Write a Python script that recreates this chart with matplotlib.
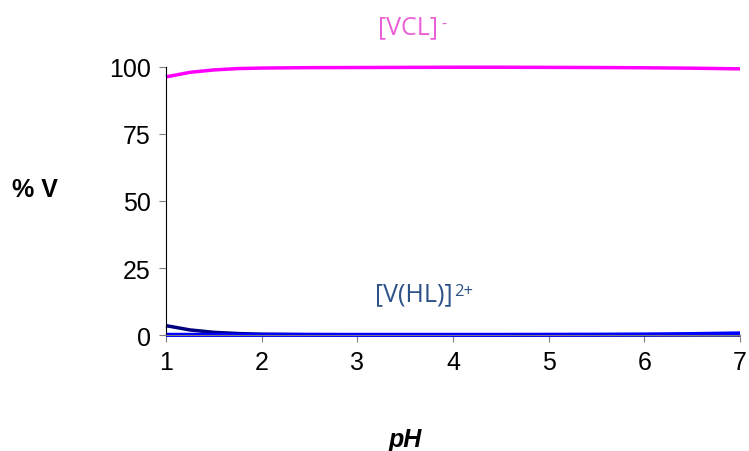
import numpy as np
import matplotlib.pyplot as plt

ph = [1.0, 1.25, 1.5, 1.75, 2.0, 2.5, 3.0, 3.5, 4.0, 4.5, 5.0, 5.5, 6.0, 6.5, 7.0]
vcl = [96.3, 98.0, 98.9, 99.4, 99.6, 99.75, 99.8, 99.85, 99.9, 99.9, 99.85, 99.8, 99.7, 99.55, 99.3]
vhl = [3.5, 1.9, 1.0, 0.55, 0.3, 0.15, 0.08, 0.05, 0.03, 0.02, 0.01, 0.01, 0.0, 0.0, 0.0]
vl = [0.05, 0.05, 0.05, 0.05, 0.05, 0.05, 0.05, 0.05, 0.05, 0.05, 0.08, 0.12, 0.2, 0.35, 0.6]

fig = plt.figure(figsize=(7.49, 4.52), dpi=100)
ax = fig.add_axes([0.2216, 0.2566, 0.7664, 0.593])

ax.plot(ph, vhl, color='#000080', lw=2.5, solid_capstyle='butt', clip_on=False)
ax.plot(ph, vl, color='#0000ff', lw=3, solid_capstyle='butt', clip_on=False)
ax.plot(ph, vcl, color='#ff00ff', lw=2.5, solid_capstyle='butt', clip_on=False)

ax.set_xlim(1, 7)
ax.set_ylim(0, 100)
ax.set_xticks(range(1, 8))
ax.set_yticks([0, 25, 50, 75, 100])
for s in ('top', 'right'):
    ax.spines[s].set_visible(False)
ax.spines['left'].set_color('#000000')
ax.spines['bottom'].set_color('#808080')
ax.tick_params(axis='both', direction='out', length=5, labelsize=18, pad=6, color='#808080')
for lab in ax.get_xticklabels() + ax.get_yticklabels():
    lab.set_family('Liberation Sans')

fig.text(0.047, 0.58, '% V', fontsize=18, fontweight='bold', family='Liberation Sans', ha='center', va='center')
fig.text(0.541, 0.027, 'pH', fontsize=18, fontweight='bold', fontstyle='italic', family='Liberation Sans', ha='center', va='center')

t1 = fig.text(0.545, 0.939, '[VCL]', fontsize=18, color='#ec5fd6', family='Open Sans', ha='center', va='center')
ax.annotate('-', xy=(1, 1), xycoords=t1, xytext=(2, -1), textcoords='offset points',
            fontsize=12, color='#ec5fd6', family='Open Sans', ha='left', va='top')
t2 = fig.text(0.552, 0.347, '[V(HL)]', fontsize=18, color='#2b5187', family='Open Sans', ha='center', va='center')
ax.annotate('2+', xy=(1, 1), xycoords=t2, xytext=(1, -1), textcoords='offset points',
            fontsize=12, color='#2b5187', family='Open Sans', ha='left', va='top')

fig.savefig('out.png', dpi=100)
